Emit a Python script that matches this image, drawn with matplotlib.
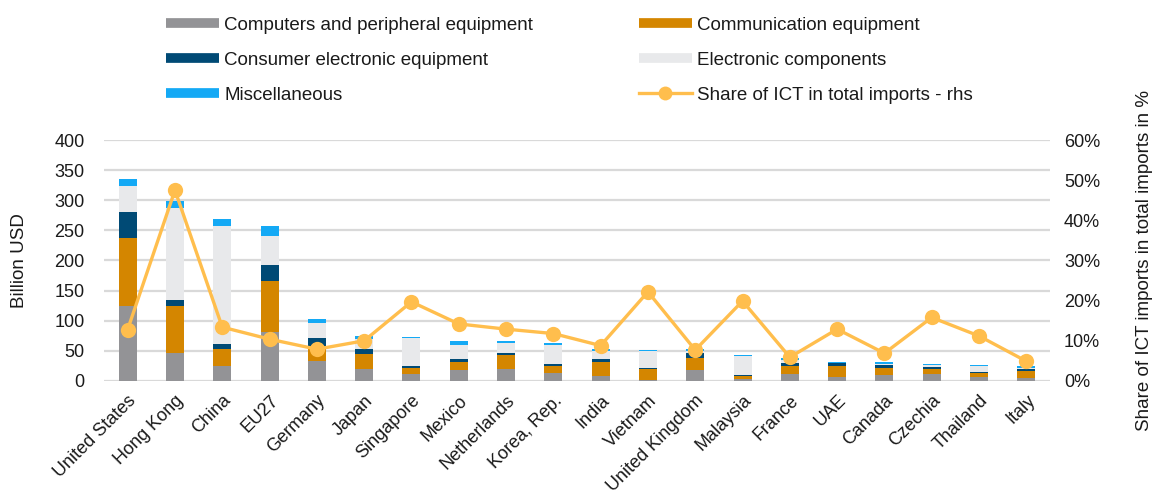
import matplotlib
matplotlib.use("Agg")
import matplotlib.pyplot as plt
from matplotlib.lines import Line2D
import numpy as np

plt.rcParams['font.family'] = ['Liberation Sans', 'DejaVu Sans']

countries = ["United States", "Hong Kong", "China", "EU27", "Germany", "Japan",
             "Singapore", "Mexico", "Netherlands", "Korea, Rep.", "India", "Vietnam",
             "United Kingdom", "Malaysia", "France", "UAE", "Canada", "Czechia",
             "Thailand", "Italy"]

computers = [125, 47, 24.5, 81, 33, 19, 11, 18, 20.6, 12.8, 8.9, 1.5, 17.8, 3.3, 11, 6, 10, 11, 6, 5.6]
communication = [113, 77, 29, 85, 25, 25.5, 10, 14, 21.7, 11.7, 22.8, 18.5, 20.6, 5, 13.3, 19.6, 11.7, 9.6, 7.3, 10.4]
consumer = [43, 11, 8, 26, 13, 9, 3, 5, 4.4, 3.3, 5, 1.7, 7.8, 1.7, 5, 3.4, 5, 1.7, 1.7, 3.5]
components = [42, 152, 195, 49, 25, 16, 47, 23, 16, 31.7, 13.3, 28, 4, 30.6, 5.5, 1, 1.7, 3.9, 10, 2.2]
miscellaneous = [12, 12, 12, 16, 6, 5.5, 2, 5.5, 3, 3.3, 3.4, 2, 2, 2.8, 3.4, 2, 3.3, 2.2, 2.2, 2.3]
share_pct = [12.8, 47.5, 13.4, 10.4, 7.9, 10.0, 19.7, 14.2, 12.9, 11.8, 8.8, 22.2, 7.7, 19.9, 5.9, 12.9, 6.9, 15.8, 11.2, 4.9]

series_names = ["Computers and peripheral equipment", "Communication equipment",
                "Consumer electronic equipment", "Electronic components", "Miscellaneous"]
series_values = [computers, communication, consumer, components, miscellaneous]
colors = ["#939396", "#D48600", "#004A75", "#E8E9EB", "#14A9F5"]
line_color = "#FFBE4D"
grid_color = "#D9D9D9"
text_color = "#1a1a1a"

fig = plt.figure(figsize=(11.57, 4.96), dpi=100)
ax = fig.add_axes([0.0899, 0.232, 0.8176, 0.4857])
ax2 = ax.twinx()

x = np.arange(len(countries))
bottom = np.zeros(len(countries))
for name, vals, c in zip(series_names, series_values, colors):
    v = np.array(vals, dtype=float)
    ax.bar(x, v, width=0.38, bottom=bottom, color=c, edgecolor='none', zorder=3)
    bottom += v

ax2.plot(x, np.array(share_pct) / 100.0, color=line_color, lw=2.4,
         marker='o', markersize=11, markeredgewidth=0, zorder=5)

ax.set_xlim(-0.5, len(countries) - 0.5)
ax.set_ylim(0, 400)
ax.set_yticks(np.arange(0, 401, 50))
ax2.set_ylim(0, 0.6)
ax2.set_yticks(np.arange(0, 0.61, 0.1))
ax2.set_yticklabels([f"{int(round(t*100))}%" for t in np.arange(0, 0.61, 0.1)])

ax.yaxis.grid(True, color=grid_color, lw=1.6, zorder=0)
ax.set_axisbelow(True)
for a in (ax, ax2):
    for s in a.spines.values():
        s.set_visible(False)
    a.tick_params(length=0, labelsize=13, colors=text_color)

ax.set_xticks(x)
ax.set_xticklabels(countries, rotation=45, ha='right', rotation_mode='anchor', fontsize=13)
ax.tick_params(axis='x', pad=8)
ax.tick_params(axis='y', pad=14)
ax2.tick_params(axis='y', pad=10)

ax.set_ylabel("Billion USD", fontsize=13.5, color=text_color, labelpad=19)
ax2.set_ylabel("Share of ICT imports in total imports in %", fontsize=13.5,
               color=text_color, labelpad=26)

handles = [Line2D([0], [0], color=c, lw=7, solid_capstyle='butt') for c in colors]
line_handle = Line2D([0], [0], color=line_color, lw=2.4, marker='o', markersize=10, markeredgewidth=0)
order_handles = [handles[0], handles[2], handles[4], handles[1], handles[3], line_handle]
order_labels = [series_names[0], series_names[2], series_names[4],
                series_names[1], series_names[3], "Share of ICT in total imports - rhs"]
leg = fig.legend(order_handles, order_labels, ncol=2, frameon=False,
                 loc='upper left', bbox_to_anchor=(0.1288, 1.0),
                 fontsize=13.5, handlelength=2.83, handletextpad=0.27,
                 columnspacing=5.65, labelspacing=0.94)
for t in leg.get_texts():
    t.set_color(text_color)

fig.savefig("out.png", dpi=100)
